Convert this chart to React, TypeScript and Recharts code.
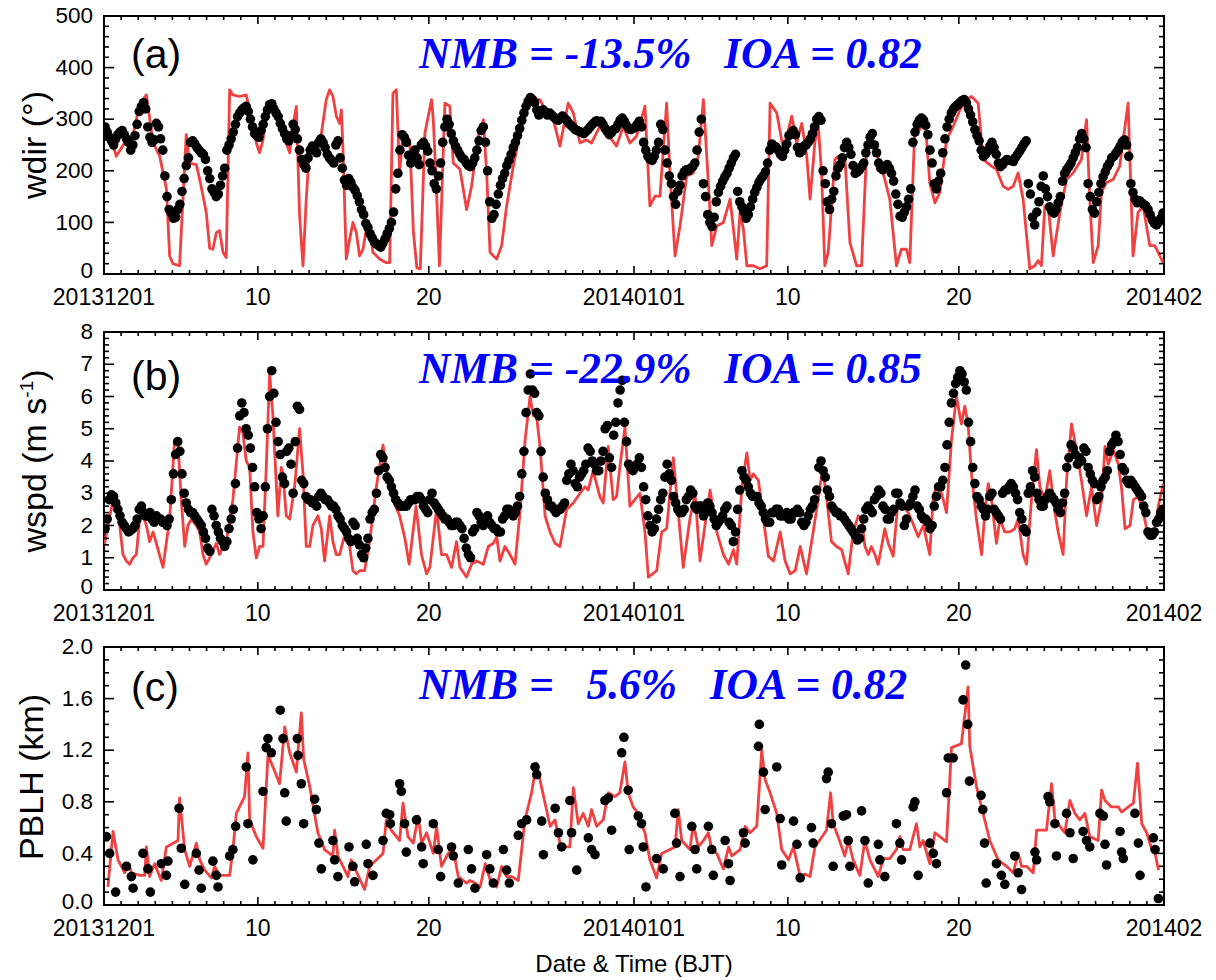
import React from 'react';
import { ComposedChart, Line, Scatter, XAxis, YAxis, ReferenceArea } from 'recharts';

// ---------- time axis ----------
const X_DAYS_TOTAL = 62;
const X_MAJOR_DAYS = [0, 9, 19, 31, 40, 50, 62];
const X_MAJOR_LABELS = ['20131201', '10', '20', '20140101', '10', '20', '201402'];
const X_ALL_DAYS = Array.from({ length: X_DAYS_TOTAL + 1 }, (_, i) => i);
const OBS_PER_DAY = 8;

// ---------- (a) wind direction, 3-hourly obs (one row per day) ----------
const WDIR_OBS = [
  285, 275, 265, 258, 250, 262, 270, 275,
  278, 270, 262, 255, 240, 250, 268, 290,
  315, 325, 332, 320, 285, 265, 255, 260,
  292, 285, 262, 240, 190, 150, 125, 118,
  108, 110, 125, 135, 160, 185, 210, 225,
  255, 258, 252, 245, 240, 235, 232, 222,
  200, 185, 165, 158, 150, 155, 172, 190,
  205, 240, 250, 262, 275, 290, 305, 312,
  318, 322, 325, 315, 300, 285, 272, 268,
  265, 278, 290, 305, 318, 328, 330, 320,
  312, 305, 292, 282, 272, 262, 258, 268,
  290, 280, 262, 240, 222, 212, 205, 225,
  240, 248, 240, 235, 255, 262, 255, 245,
  232, 225, 220, 215, 250, 258, 225, 205,
  182, 172, 185, 178, 168, 162, 152, 140,
  125, 115, 98, 90, 78, 70, 62, 58,
  55, 52, 60, 68, 78, 88, 100, 120,
  165, 195, 240, 270, 265, 255, 230, 215,
  232, 240, 225, 212, 250, 255, 248, 238,
  215, 200, 175, 165, 190, 215, 255, 285,
  300, 290, 272, 258, 248, 240, 232, 225,
  222, 215, 210, 208, 215, 225, 240, 258,
  278, 285, 255, 200, 140, 108, 115, 135,
  155, 172, 185, 195, 210, 220, 232, 245,
  255, 268, 282, 298, 312, 325, 335, 342,
  338, 332, 318, 308, 312, 318, 314, 308,
  312, 308, 304, 300, 298, 302, 306, 302,
  298, 292, 288, 284, 280, 278, 276, 274,
  272, 276, 280, 285, 290, 294, 297, 295,
  296, 290, 282, 276, 270, 274, 280, 282,
  290, 298, 302, 296, 288, 282, 280, 282,
  284, 290, 296, 285, 255, 240, 228, 222,
  220, 228, 240, 255, 290, 280, 240, 215,
  190, 175, 150, 135, 160, 172, 190, 198,
  202, 200, 205, 208, 215, 240, 275, 300,
  175, 150, 115, 100, 92, 110, 140, 158,
  170, 180, 188, 195, 205, 215, 225, 232,
  160, 140, 130, 120, 108, 115, 130, 145,
  158, 168, 178, 185, 190, 198, 215, 240,
  252, 248, 246, 240, 232, 228, 240, 252,
  268, 272, 278, 270, 245, 235, 238, 248,
  250, 255, 262, 272, 285, 300, 305, 298,
  200, 175, 140, 125, 145, 160, 190, 205,
  212, 225, 245, 255, 245, 232, 210, 195,
  198, 202, 208, 215, 235, 250, 265, 272,
  250, 235, 215, 205, 202, 208, 212, 205,
  195, 180, 155, 135, 112, 110, 120, 130,
  145, 165, 255, 275, 290, 298, 302, 298,
  288, 270, 240, 215, 175, 165, 180, 195,
  235, 262, 285, 300, 312, 320, 325, 328,
  332, 336, 338, 332, 320, 308, 295, 280,
  268, 258, 240, 228, 232, 238, 248, 255,
  245, 232, 215, 208, 212, 218, 222, 220,
  220, 218, 226, 232, 238, 245, 252, 258,
  175, 155, 110, 95, 120, 140, 170, 190,
  165, 150, 130, 122, 118, 125, 138, 150,
  180, 195, 202, 208, 215, 225, 235, 245,
  262, 272, 262, 245, 175, 150, 125, 118,
  140, 158, 175, 188, 198, 208, 215, 225,
  228, 234, 240, 248, 256, 260, 250, 228,
  175, 158, 145, 138, 142, 138, 135, 132,
  125, 115, 105, 98, 95, 100, 108, 118,
];
const WDIR_MODEL: [number, number][] = [
  [0, 290], [0.53, 250], [0.72, 228], [1.31, 260], [1.5, 250], [1.7, 270], [2.09, 330], [2.48, 347],
  [2.87, 255], [3.26, 228], [3.65, 165], [3.84, 35], [4.03, 20], [4.42, 16], [4.81, 270], [5.01, 215],
  [5.4, 212], [5.6, 183], [5.98, 120], [6.18, 50], [6.37, 48], [6.57, 80], [6.76, 84], [6.96, 42],
  [7.15, 32], [7.35, 357], [7.54, 347], [7.93, 344], [8.32, 347], [8.71, 292], [8.91, 254], [9.1, 235],
  [9.3, 260], [9.49, 312], [9.88, 331], [10.27, 292], [10.66, 254], [10.86, 235], [11.05, 286], [11.25, 325],
  [11.44, 113], [11.64, 16], [11.83, 145], [12.03, 248], [12.42, 235], [12.61, 248], [13.0, 338], [13.2, 357],
  [13.39, 344], [13.59, 306], [13.78, 292], [13.88, 318], [13.98, 241], [14.17, 29], [14.37, 68], [14.56, 100],
  [14.76, 80], [14.95, 35], [15.15, 48], [15.34, 87], [15.54, 87], [15.73, 42], [16.12, 29], [16.51, 22],
  [16.71, 22], [16.9, 350], [17.1, 357], [17.29, 196], [17.49, 273], [17.88, 260], [18.1, 80], [18.3, 12],
  [18.5, 10], [18.77, 273], [19.16, 338], [19.26, 299], [19.4, 200], [19.62, 16], [19.94, 331], [20.23, 325],
  [20.43, 215], [20.82, 203], [21.21, 125], [21.5, 170], [21.89, 267], [22.19, 299], [22.39, 190], [22.58, 42],
  [22.78, 35], [22.97, 29], [23.26, 55], [23.55, 132], [23.94, 209], [24.33, 273], [24.72, 325], [25.11, 338],
  [25.5, 338], [25.89, 312], [26.28, 299], [26.67, 248], [27.15, 331], [27.45, 312], [27.84, 254], [28.22, 260],
  [28.52, 254], [29.0, 286], [29.4, 273], [29.98, 248], [30.37, 286], [30.76, 254], [31.15, 267], [31.64, 325],
  [31.93, 132], [32.23, 151], [32.52, 151], [32.91, 331], [33.1, 196], [33.4, 35], [33.69, 93], [34.08, 190],
  [34.47, 196], [34.76, 228], [35.06, 338], [35.45, 119], [35.55, 55], [35.84, 93], [36.23, 100], [36.62, 145],
  [37.01, 29], [37.2, 119], [37.4, 87], [37.6, 16], [37.98, 16], [38.37, 10], [38.76, 16], [38.96, 331],
  [39.35, 312], [39.74, 241], [40.23, 306], [40.52, 254], [40.81, 292], [41.1, 230], [41.3, 145], [41.58, 255],
  [41.77, 292], [41.97, 196], [42.16, 16], [42.36, 42], [42.75, 222], [42.94, 228], [43.14, 209], [43.33, 228],
  [43.63, 61], [44.02, 16], [44.31, 16], [44.6, 235], [44.89, 254], [45.18, 235], [45.57, 196], [45.96, 145],
  [46.35, 16], [46.64, 48], [46.94, 48], [47.13, 22], [47.43, 286], [47.72, 280], [48.01, 306], [48.3, 177],
  [48.6, 138], [48.89, 158], [49.28, 260], [49.67, 286], [50.06, 318], [50.45, 338], [50.74, 344], [51.13, 331],
  [51.42, 222], [51.91, 209], [52.2, 203], [52.59, 170], [52.88, 164], [53.18, 170], [53.47, 196], [53.76, 145],
  [54.15, 10], [54.44, 16], [54.64, 26], [54.83, 16], [55.03, 132], [55.22, 132], [55.52, 35], [55.91, 119],
  [56.3, 183], [56.69, 196], [57.17, 222], [57.47, 299], [57.66, 145], [57.86, 22], [58.15, 55], [58.34, 158],
  [58.63, 177], [59.02, 183], [59.41, 209], [59.9, 331], [60.19, 35], [60.48, 119], [60.78, 132], [61.17, 55],
  [61.46, 55], [61.66, 42], [61.95, 22],
];

// ---------- (b) wind speed, 3-hourly obs (one row per day) ----------
const WSPD_OBS = [
  1.9, 2.2, 2.8, 2.95, 2.9, 2.7, 2.5, 2.3,
  2.1, 2.0, 1.9, 1.8, 1.85, 1.9, 2.0, 2.2,
  2.5, 2.6, 2.4, 2.3, 2.3, 2.4, 2.2, 2.1,
  2.3, 2.2, 2.2, 2.1, 2.1, 2.0, 2.2, 2.8,
  3.6, 4.2, 4.6, 4.3, 3.6, 3.0, 2.7, 2.5,
  2.4, 2.4, 2.3, 2.2, 2.1, 2.0, 1.8, 1.6,
  1.3, 1.2, 2.5, 2.3, 2.0, 1.8, 1.6, 1.5,
  1.35, 1.5, 1.9, 2.2, 2.5, 3.3, 4.4, 5.4,
  5.8, 5.5, 5.0, 4.8, 4.4, 3.8, 3.2, 2.4,
  2.2, 1.9, 2.3, 3.2, 5.0, 6.0, 6.8, 6.1,
  5.2, 4.6, 4.2, 3.5, 3.3, 4.3, 4.4, 3.9,
  3.0, 4.6, 5.7, 5.6, 3.4, 3.3, 2.9, 2.8,
  2.8, 2.7, 2.7, 2.6, 2.9, 3.0, 2.9, 2.8,
  2.8, 2.7, 2.6, 2.6, 2.5, 2.3, 2.2, 2.0,
  1.9, 1.8, 1.6, 1.5, 2.1, 2.0, 1.6, 1.4,
  1.1, 1.0, 1.3, 1.6, 2.2, 2.4, 2.5, 3.0,
  3.7, 4.2, 4.1, 3.8, 3.5, 3.4, 3.2, 3.0,
  2.8, 2.7, 2.6, 2.6, 2.6, 2.6, 2.7, 2.8,
  2.8, 2.8, 2.9, 2.9, 2.8, 2.6, 2.5, 2.4,
  2.8, 3.0, 2.7, 2.6, 2.5, 2.4, 2.3, 2.2,
  2.2, 2.1, 2.0, 2.0, 2.1, 2.1, 2.0, 1.9,
  1.6, 1.3, 1.1, 1.0, 1.8, 1.9, 2.4, 2.3,
  2.1, 2.0, 2.2, 2.3, 2.1, 2.0, 1.9, 1.9,
  1.8, 1.8, 2.2, 2.3, 2.5, 2.5, 2.4, 2.3,
  2.4, 2.6, 2.9, 3.6, 4.3, 5.5, 6.2, 6.7,
  6.2, 6.1, 5.5, 5.4, 4.3, 3.5, 3.0, 2.8,
  2.6, 2.6, 2.5, 2.4, 2.5, 2.5, 2.6, 2.7,
  3.4, 3.6, 3.9, 3.7, 3.3, 3.2, 3.5, 3.6,
  3.7, 3.9, 4.4, 4.3, 4.0, 3.9, 3.7, 3.7,
  4.0, 4.3, 5.0, 5.1, 4.1, 3.8, 4.8, 5.2,
  5.8, 6.2, 6.5, 5.2, 4.6, 3.9, 3.8, 3.7,
  3.8, 3.9, 4.1, 3.8, 3.2, 2.8, 2.3, 2.0,
  1.8, 1.9, 2.2, 2.5, 2.8, 3.0, 3.5, 3.9,
  3.6, 3.4, 2.9, 2.7, 2.5, 2.4, 2.4, 2.5,
  2.8, 2.9, 3.1, 3.0, 2.6, 2.5, 2.6, 2.6,
  2.3, 2.4, 2.7, 2.6, 2.4, 2.2, 2.0, 2.1,
  2.2, 2.3, 2.5, 2.6, 2.1, 2.0, 1.5, 1.8,
  2.5, 3.1, 3.7, 3.5, 3.4, 3.2, 3.0, 2.9,
  2.9, 2.9, 2.7, 2.6, 2.4, 2.2, 2.1, 2.1,
  2.4, 2.4, 2.5, 2.5, 2.3, 2.3, 2.3, 2.4,
  2.2, 2.2, 2.4, 2.4, 2.5, 2.4, 2.1, 2.0,
  2.1, 2.3, 2.5, 2.6, 2.8, 3.1, 3.8, 4.0,
  3.7, 3.5, 3.1, 2.9, 2.6, 2.5, 2.4, 2.4,
  2.3, 2.3, 2.2, 2.1, 2.0, 1.9, 1.8, 1.7,
  1.55, 1.6, 1.9, 2.2, 2.5, 2.6, 2.5, 2.4,
  2.8, 2.9, 3.1, 3.0, 2.6, 2.5, 2.2, 2.2,
  2.4, 2.5, 3.0, 3.0, 2.7, 2.6, 2.0, 2.2,
  2.6, 2.7, 2.9, 3.1, 2.6, 2.5, 2.3, 2.2,
  2.2, 2.1, 1.9, 2.0, 2.6, 2.9, 3.2, 3.2,
  3.4, 3.8, 4.5, 5.2, 5.8, 6.1, 6.4, 6.6,
  6.8, 6.7, 6.45, 6.2, 5.2, 4.6, 3.8, 3.3,
  2.9, 2.8, 2.6, 2.5, 2.3, 2.5, 2.9, 3.0,
  2.5, 2.4, 2.3, 2.2, 3.0, 3.1, 3.1, 3.2,
  3.3, 3.2, 3.0, 2.8, 2.4, 2.2, 1.9, 1.8,
  3.0, 3.2, 3.7, 3.5, 3.0, 2.8, 2.6, 2.6,
  2.8, 2.9, 3.0, 2.9, 2.8, 2.7, 2.5, 2.4,
  2.7, 3.0, 3.8, 4.1, 4.5, 4.4, 4.2, 3.9,
  4.1, 4.0, 4.4, 4.3, 3.8, 3.6, 3.4, 3.3,
  2.8, 2.9, 3.2, 3.4, 3.5, 3.7, 4.3, 4.5,
  4.6, 4.8, 4.6, 4.2, 3.8, 3.7, 3.4, 3.3,
  3.4, 3.3, 3.2, 3.1, 3.0, 2.9, 2.6, 2.4,
  1.8, 1.7, 1.7, 1.8, 2.1, 2.2, 2.4, 2.5,
];
const WSPD_MODEL: [number, number][] = [
  [0, 1.35], [0.53, 2.8], [0.62, 2.9], [0.92, 2.0], [1.11, 1.1], [1.31, 0.9], [1.5, 0.8], [1.7, 1.0],
  [1.89, 1.1], [2.09, 2.2], [2.28, 2.3], [2.48, 2.0], [2.67, 1.5], [2.87, 1.8], [3.06, 1.45], [3.45, 0.7],
  [3.84, 2.2], [4.13, 4.65], [4.33, 4.5], [4.52, 2.8], [4.72, 1.35], [4.91, 2.0], [5.11, 2.2], [5.4, 2.0],
  [5.6, 1.8], [5.79, 1.1], [5.98, 0.8], [6.28, 1.1], [6.57, 1.45], [6.76, 1.1], [6.96, 1.35], [7.15, 1.5],
  [7.54, 2.8], [7.93, 5.05], [8.13, 4.85], [8.32, 4.0], [8.52, 3.8], [8.71, 1.8], [8.91, 1.0], [9.1, 1.35],
  [9.3, 1.35], [9.49, 3.8], [9.69, 6.7], [9.88, 5.4], [10.17, 2.3], [10.37, 3.8], [10.47, 3.6], [10.66, 2.3],
  [10.86, 2.2], [11.15, 3.2], [11.44, 5.0], [11.64, 3.6], [11.83, 1.35], [12.03, 1.35], [12.22, 2.0], [12.51, 2.3],
  [12.71, 1.9], [12.9, 0.9], [13.2, 2.3], [13.39, 1.5], [13.59, 1.1], [13.78, 1.1], [14.17, 1.9], [14.37, 1.35],
  [14.56, 0.6], [14.76, 0.5], [14.95, 0.6], [15.24, 0.6], [15.54, 1.5], [15.93, 3.2], [16.32, 4.5], [16.51, 3.8],
  [16.9, 2.8], [17.29, 2.3], [17.6, 1.6], [17.85, 0.8], [18.25, 2.6], [18.57, 1.1], [18.87, 0.5], [19.06, 0.7],
  [19.45, 2.5], [19.74, 1.1], [20.04, 1.1], [20.33, 0.7], [20.62, 1.5], [20.82, 0.7], [21.21, 0.4], [21.5, 0.8],
  [21.79, 0.9], [22.19, 0.8], [22.48, 1.35], [22.78, 1.45], [22.97, 1.65], [23.16, 0.9], [23.45, 1.35], [23.75, 1.1],
  [24.04, 0.8], [24.33, 2.4], [24.63, 4.65], [24.92, 6.0], [25.11, 5.4], [25.3, 5.4], [25.5, 4.45], [25.8, 2.3],
  [26.09, 1.8], [26.38, 1.45], [26.67, 1.35], [27.06, 2.5], [27.45, 2.7], [27.84, 3.0], [28.13, 3.2], [28.32, 3.1],
  [28.61, 3.7], [29.0, 2.9], [29.2, 2.7], [29.49, 4.45], [29.78, 2.8], [29.98, 2.9], [30.17, 3.8], [30.47, 5.05],
  [30.76, 2.6], [31.05, 2.8], [31.35, 3.0], [31.64, 1.8], [31.84, 0.4], [32.33, 0.6], [32.62, 1.8], [32.91, 1.9],
  [33.3, 4.1], [33.59, 2.4], [33.88, 0.7], [34.27, 2.2], [34.57, 3.0], [34.86, 0.9], [35.15, 2.0], [35.45, 3.1],
  [35.84, 1.8], [36.23, 1.1], [36.53, 0.8], [36.82, 1.25], [37.01, 0.8], [37.31, 3.2], [37.6, 4.25], [37.79, 3.4],
  [37.98, 3.6], [38.28, 3.4], [38.57, 2.2], [38.86, 1.05], [39.16, 0.9], [39.55, 1.8], [39.84, 0.9], [40.14, 0.5],
  [40.43, 0.6], [40.72, 1.35], [41.09, 0.5], [41.48, 1.8], [41.77, 2.8], [42.03, 3.75], [42.26, 2.9], [42.55, 1.5],
  [42.85, 1.35], [43.14, 1.25], [43.53, 0.5], [43.82, 1.8], [44.12, 2.3], [44.31, 2.2], [44.51, 1.35], [44.7, 1.1],
  [44.89, 1.35], [45.09, 1.1], [45.28, 0.8], [45.48, 1.35], [45.67, 1.9], [45.87, 1.45], [46.16, 1.05], [46.45, 2.8],
  [46.74, 2.6], [47.04, 2.4], [47.33, 2.05], [47.62, 1.65], [47.92, 2.0], [48.3, 1.1], [48.5, 2.9], [48.69, 3.2],
  [48.99, 3.0], [49.28, 2.4], [49.57, 4.65], [49.86, 6.0], [50.15, 5.15], [50.35, 5.7], [50.54, 5.15], [50.74, 3.6],
  [51.03, 2.2], [51.33, 1.1], [51.52, 2.4], [51.72, 3.3], [51.91, 2.8], [52.2, 1.45], [52.4, 2.2], [52.69, 1.8],
  [52.98, 1.8], [53.27, 1.9], [53.47, 2.2], [53.76, 1.1], [53.96, 0.8], [54.25, 2.8], [54.54, 4.35], [54.74, 3.2],
  [55.03, 2.8], [55.32, 3.7], [55.62, 2.4], [55.81, 1.8], [56.1, 1.1], [56.3, 3.4], [56.59, 5.15], [56.88, 4.35],
  [57.17, 3.4], [57.47, 2.3], [57.76, 3.2], [58.06, 2.0], [58.35, 2.8], [58.55, 4.45], [58.74, 3.9], [59.04, 4.35],
  [59.33, 3.9], [59.53, 3.1], [59.72, 1.9], [60.01, 2.0], [60.21, 2.8], [60.5, 2.9], [60.79, 2.4], [61.09, 1.65],
  [61.38, 1.65], [61.67, 2.6], [61.96, 3.3],
];

// ---------- (c) PBLH ----------
const PBLH_OBS: [number, number][] = [
  [0.14, 0.53], [0.33, 0.40], [0.68, 0.10], [1.31, 0.30], [1.6, 0.22], [1.7, 0.13], [2.28, 0.40], [2.57, 0.28],
  [2.71, 0.10], [3.35, 0.32], [3.65, 0.23], [3.74, 0.34], [4.39, 0.75], [4.52, 0.44], [4.72, 0.16], [5.4, 0.40],
  [5.56, 0.27], [5.69, 0.13], [6.37, 0.34], [6.57, 0.23], [6.67, 0.14], [7.35, 0.38], [7.54, 0.43], [7.7, 0.61],
  [8.32, 1.07], [8.42, 0.63], [8.71, 0.35], [9.3, 0.88], [9.49, 1.22], [9.59, 1.29], [9.79, 1.18], [10.31, 1.51],
  [10.47, 1.29], [10.57, 0.87], [10.66, 0.65], [11.31, 1.29], [11.35, 1.16], [11.54, 0.94], [11.68, 0.63], [12.32, 0.82],
  [12.42, 0.74], [12.57, 0.48], [12.71, 0.28], [13.39, 0.50], [13.49, 0.35], [13.68, 0.22], [14.33, 0.45], [14.56, 0.30],
  [14.66, 0.18], [15.34, 0.47], [15.44, 0.32], [15.73, 0.23], [16.32, 0.50], [16.51, 0.71], [16.71, 0.70], [16.75, 0.63],
  [17.29, 0.94], [17.39, 0.88], [17.58, 0.63], [17.68, 0.41], [18.28, 0.66], [18.58, 0.45], [18.67, 0.32], [19.26, 0.63],
  [19.55, 0.43], [19.69, 0.22], [20.33, 0.45], [20.43, 0.38], [20.72, 0.17], [21.31, 0.43], [21.5, 0.28], [21.7, 0.13],
  [22.38, 0.39], [22.57, 0.28], [22.77, 0.17], [23.36, 0.43], [23.55, 0.27], [23.71, 0.17], [24.23, 0.54], [24.43, 0.63],
  [24.72, 0.66], [25.21, 1.07], [25.31, 1.01], [25.6, 0.65], [25.7, 0.39], [26.39, 0.75], [26.58, 0.56], [26.77, 0.45],
  [27.25, 0.81], [27.35, 0.56], [27.65, 0.27], [28.33, 0.52], [28.52, 0.43], [28.72, 0.39], [29.3, 0.81], [29.5, 0.83],
  [29.69, 0.58], [30.28, 1.18], [30.41, 1.30], [30.66, 0.89], [30.72, 0.43], [31.25, 0.69], [31.44, 0.63], [31.54, 0.45],
  [31.7, 0.14], [32.32, 0.36], [32.71, 0.28], [33.39, 0.71], [33.49, 0.48], [33.69, 0.22], [34.38, 0.61], [34.57, 0.43],
  [34.67, 0.28], [35.35, 0.61], [35.55, 0.43], [35.64, 0.23], [36.33, 0.50], [36.53, 0.32], [36.62, 0.19], [37.4, 0.56],
  [37.5, 0.48], [38.28, 1.23], [38.33, 1.40], [38.57, 1.03], [38.67, 0.74], [39.35, 1.07], [39.55, 0.67], [39.64, 0.31],
  [40.33, 0.65], [40.53, 0.47], [40.72, 0.21], [41.38, 0.60], [41.48, 0.48], [42.26, 0.98], [42.36, 1.03], [42.55, 0.63],
  [42.65, 0.30], [43.24, 0.69], [43.43, 0.70], [43.53, 0.50], [43.63, 0.30], [44.31, 0.73], [44.51, 0.50], [44.7, 0.17],
  [45.29, 0.47], [45.38, 0.35], [45.67, 0.22], [46.35, 0.63], [46.55, 0.48], [46.65, 0.35], [47.33, 0.76], [47.43, 0.80],
  [47.62, 0.23], [48.3, 0.48], [48.5, 0.40], [48.69, 0.32], [49.28, 0.87], [49.38, 1.14], [49.67, 1.14], [50.25, 1.59],
  [50.4, 1.86], [50.52, 1.40], [50.62, 0.96], [51.3, 0.85], [51.4, 0.74], [51.5, 0.48], [51.6, 0.17], [52.2, 0.32],
  [52.49, 0.23], [52.69, 0.16], [53.27, 0.38], [53.47, 0.25], [53.67, 0.12], [54.45, 0.41], [54.55, 0.35], [55.22, 0.84],
  [55.32, 0.80], [55.62, 0.63], [55.71, 0.38], [56.3, 0.71], [56.5, 0.56], [56.69, 0.36], [57.27, 0.57], [57.47, 0.50],
  [57.66, 0.45], [58.25, 0.71], [58.45, 0.69], [58.55, 0.47], [58.64, 0.31], [59.43, 0.57], [59.52, 0.41], [59.62, 0.36],
  [60.3, 0.71], [60.5, 0.48], [60.6, 0.23], [61.38, 0.52], [61.48, 0.43], [61.67, 0.05],
];
const PBLH_MODEL: [number, number][] = [
  [0.23, 0.14], [0.53, 0.57], [0.82, 0.35], [1.21, 0.25], [1.46, 0.32], [1.6, 0.25], [2.09, 0.23], [2.38, 0.23],
  [2.48, 0.45], [2.67, 0.22], [2.96, 0.32], [3.35, 0.19], [3.65, 0.45], [4.33, 0.50], [4.42, 0.83], [4.72, 0.43],
  [5.01, 0.30], [5.4, 0.48], [5.6, 0.35], [5.89, 0.27], [6.28, 0.21], [6.47, 0.30], [6.76, 0.23], [7.35, 0.23],
  [7.54, 0.43], [7.74, 0.71], [8.22, 0.84], [8.42, 1.18], [8.52, 0.66], [8.91, 0.53], [9.3, 0.44], [9.59, 1.16],
  [9.79, 1.10], [10.27, 0.94], [10.57, 1.38], [10.86, 1.18], [11.25, 1.03], [11.54, 1.49], [11.68, 1.13], [12.03, 0.92],
  [12.51, 0.56], [12.9, 0.43], [13.39, 0.38], [13.49, 0.58], [13.68, 0.38], [14.27, 0.22], [14.46, 0.35], [14.76, 0.26],
  [15.24, 0.12], [15.54, 0.30], [16.32, 0.40], [16.51, 0.66], [16.8, 0.58], [17.29, 0.50], [17.49, 0.79], [17.78, 0.53],
  [18.09, 0.48], [18.38, 0.69], [18.58, 0.48], [18.87, 0.56], [19.26, 0.40], [19.45, 0.61], [19.74, 0.30], [20.13, 0.40],
  [20.43, 0.43], [20.72, 0.22], [21.2, 0.17], [21.4, 0.19], [21.7, 0.17], [22.0, 0.14], [22.3, 0.32], [22.6, 0.19],
  [22.97, 0.14], [23.26, 0.30], [23.55, 0.22], [23.85, 0.22], [24.23, 0.19], [24.62, 0.66], [25.01, 0.87], [25.3, 1.10],
  [25.5, 0.97], [25.8, 0.79], [26.09, 0.61], [26.38, 0.66], [26.67, 0.48], [26.96, 0.45], [27.25, 0.45], [27.45, 0.91],
  [27.74, 0.63], [28.03, 0.71], [28.33, 0.61], [28.52, 0.74], [28.82, 0.61], [29.2, 0.66], [29.5, 0.87], [29.88, 0.84],
  [30.17, 0.87], [30.47, 1.11], [30.66, 0.87], [30.95, 0.76], [31.25, 0.71], [31.44, 0.63], [31.64, 0.56], [31.93, 0.35],
  [32.32, 0.21], [32.62, 0.40], [33.4, 0.45], [33.59, 0.74], [33.79, 0.50], [34.27, 0.43], [34.47, 0.63], [34.76, 0.45],
  [35.06, 0.50], [35.35, 0.56], [35.55, 0.43], [35.84, 0.40], [36.23, 0.28], [36.53, 0.45], [36.72, 0.38], [37.21, 0.43],
  [37.5, 0.61], [37.79, 0.56], [38.18, 0.61], [38.47, 1.20], [38.67, 0.97], [38.96, 0.87], [39.35, 0.71], [39.64, 0.43],
  [40.03, 0.35], [40.33, 0.45], [40.72, 0.22], [41.0, 0.24], [41.3, 0.22], [41.58, 0.45], [42.26, 0.58], [42.5, 0.87],
  [42.65, 0.63], [42.94, 0.53], [43.33, 0.38], [43.53, 0.50], [43.82, 0.35], [44.21, 0.23], [44.5, 0.50], [44.8, 0.35],
  [45.29, 0.22], [45.58, 0.36], [45.96, 0.36], [46.35, 0.43], [46.55, 0.53], [46.74, 0.43], [47.13, 0.43], [47.52, 0.63],
  [47.72, 0.45], [47.91, 0.50], [48.3, 0.32], [48.6, 0.56], [49.28, 0.49], [49.57, 1.22], [50.15, 1.25], [50.54, 1.69],
  [50.64, 1.23], [51.03, 0.92], [51.42, 0.71], [51.81, 0.50], [52.3, 0.35], [52.79, 0.30], [53.18, 0.25], [53.47, 0.40],
  [53.67, 0.30], [53.96, 0.30], [54.35, 0.25], [54.55, 0.58], [55.13, 0.58], [55.42, 0.94], [55.62, 0.66], [56.2, 0.56],
  [56.5, 0.81], [56.79, 0.71], [57.08, 0.66], [57.37, 0.71], [57.66, 0.53], [58.15, 0.50], [58.35, 0.89], [58.55, 0.81],
  [58.93, 0.76], [59.33, 0.76], [59.52, 0.72], [59.91, 0.76], [60.21, 0.79], [60.45, 1.10], [60.7, 0.63], [60.99, 0.56],
  [61.29, 0.43], [61.48, 0.40], [61.68, 0.27],
];

// ---------- stats text ----------
const STAT_A = 'NMB = -13.5%   IOA = 0.82';
const STAT_B = 'NMB = -22.9%   IOA = 0.85';
const STAT_C = 'NMB =   5.6%   IOA = 0.82';

// ---------- layout / style ----------
const W = 1216;
const CH = 320;
const PL = 104;
const PR = 1164;
const PT = 16;
const PB = 274;
const RED = '#f04040';
const FONT = '"Liberation Sans", Arial, Helvetica, sans-serif';

const fromRegular = (vals: number[]) => vals.map((v, i) => ({ d: (i + 0.5) / OBS_PER_DAY, v }));
const fromPairs = (pairs: [number, number][]) => pairs.map(([d, v]) => ({ d, v }));

const makeTicks = (max: number, step: number) => {
  const n = Math.round(max / step);
  return Array.from({ length: n + 1 }, (_, k) => +(k * step).toFixed(3));
};

const isMajor = (v: number, step: number) => Math.abs(v / step - Math.round(v / step)) < 1e-6;

const XTick = (props: any) => {
  const { x, payload } = props;
  const idx = X_MAJOR_DAYS.indexOf(payload.value);
  const major = idx >= 0;
  const len = major ? 8 : 4;
  return (
    <g>
      <line x1={x} x2={x} y1={PB} y2={PB - len} stroke="#000" strokeWidth={1.6} />
      <line x1={x} x2={x} y1={PT} y2={PT + len} stroke="#000" strokeWidth={1.6} />
      {major && (
        <text x={x} y={PB + 31} textAnchor="middle" fontFamily={FONT} fontSize={23} fill="#000">
          {X_MAJOR_LABELS[idx]}
        </text>
      )}
    </g>
  );
};

const makeYTick = (majorStep: number, fmt: (v: number) => string) => (props: any) => {
  const { y, payload } = props;
  const v = payload.value;
  const major = isMajor(v, majorStep);
  const len = major ? 10 : 5;
  return (
    <g>
      <line x1={PL} x2={PL + len} y1={y} y2={y} stroke="#000" strokeWidth={1.6} />
      <line x1={PR} x2={PR - len} y1={y} y2={y} stroke="#000" strokeWidth={1.6} />
      {major && (
        <text x={PL - 11} y={y} dy={v === 0 ? '0.16em' : '0.32em'} textAnchor="end" fontFamily={FONT} fontSize={22.5} fill="#000">
          {fmt(v)}
        </text>
      )}
    </g>
  );
};

type PanelProps = {
  top: number;
  yMax: number;
  majorStep: number;
  minorStep: number;
  fmt: (v: number) => string;
  obs: { d: number; v: number }[];
  model: { d: number; v: number }[];
  dotR: number;
};

const Panel = ({ top, yMax, majorStep, minorStep, fmt, obs, model, dotR }: PanelProps) => (
  <div style={{ position: 'absolute', left: 0, top, width: W, height: CH }}>
    <ComposedChart width={W} height={CH} margin={{ top: PT, right: W - PR, bottom: CH - PB - 30, left: 0 }}>
      <XAxis
        dataKey="d"
        type="number"
        domain={[0, X_DAYS_TOTAL]}
        ticks={X_ALL_DAYS}
        interval={0}
        allowDataOverflow
        axisLine={false}
        tickLine={false}
        tick={<XTick />}
        height={30}
      />
      <YAxis
        dataKey="v"
        type="number"
        domain={[0, yMax]}
        ticks={makeTicks(yMax, minorStep)}
        interval={0}
        allowDataOverflow
        axisLine={false}
        tickLine={false}
        tick={makeYTick(majorStep, fmt)}
        width={PL}
      />
      <Scatter
        data={obs}
        dataKey="v"
        isAnimationActive={false}
        shape={(p: any) => <circle cx={p.cx} cy={p.cy} r={dotR} fill="#000" />}
      />
      <Line
        data={model}
        dataKey="v"
        type="linear"
        stroke={RED}
        strokeWidth={2.8}
        strokeLinejoin="round"
        dot={false}
        activeDot={false}
        isAnimationActive={false}
      />
      <ReferenceArea x1={0} x2={X_DAYS_TOTAL} y1={0} y2={yMax} fill="none" stroke="#000" strokeWidth={2} ifOverflow="visible" />
    </ComposedChart>
  </div>
);

const TOPS = [0, 316, 631];

export default function App() {
  return (
    <div style={{ position: 'absolute', left: 0, top: 0, width: W, height: 980, background: '#fff', overflow: 'hidden' }}>
      <Panel top={TOPS[0]} yMax={500} majorStep={100} minorStep={20} fmt={(v) => String(v)}
        obs={fromRegular(WDIR_OBS)} model={fromPairs(WDIR_MODEL)} dotR={4.8} />
      <Panel top={TOPS[1]} yMax={8} majorStep={1} minorStep={0.2} fmt={(v) => String(v)}
        obs={fromRegular(WSPD_OBS)} model={fromPairs(WSPD_MODEL)} dotR={4.8} />
      <Panel top={TOPS[2]} yMax={2} majorStep={0.4} minorStep={0.1} fmt={(v) => v.toFixed(1)}
        obs={fromPairs(PBLH_OBS)} model={fromPairs(PBLH_MODEL)} dotR={4.8} />
      <svg width={W} height={980} style={{ position: 'absolute', left: 0, top: 0, pointerEvents: 'none' }}>
        <g fontFamily={FONT} fill="#000">
          <text transform="translate(46,145) rotate(-90)" textAnchor="middle" fontSize={34}>wdir (°)</text>
          <text transform="translate(46,461) rotate(-90)" textAnchor="middle" fontSize={34}>
            wspd (m s<tspan fontSize={19} dy={-13}>-1</tspan><tspan dy={13}>)</tspan>
          </text>
          <text transform="translate(43,777) rotate(-90)" textAnchor="middle" fontSize={34}>PBLH (km)</text>
          <text x={131} y={68} fontSize={41}>(a)</text>
          <text x={131} y={390} fontSize={41}>(b)</text>
          <text x={131} y={701} fontSize={41}>(c)</text>
          <text x={634} y={972} textAnchor="middle" fontSize={24}>Date &amp; Time (BJT)</text>
        </g>
        <g fontFamily='"Liberation Serif", "Times New Roman", serif' fontWeight="bold" fontStyle="italic" fontSize={43.5} fill="#0000ff">
          <text x={419} y={68} style={{ whiteSpace: 'pre' }} xmlSpace="preserve">{STAT_A}</text>
          <text x={419} y={383} style={{ whiteSpace: 'pre' }} xmlSpace="preserve">{STAT_B}</text>
          <text x={419} y={699} style={{ whiteSpace: 'pre' }} xmlSpace="preserve">{STAT_C}</text>
        </g>
      </svg>
    </div>
  );
}
